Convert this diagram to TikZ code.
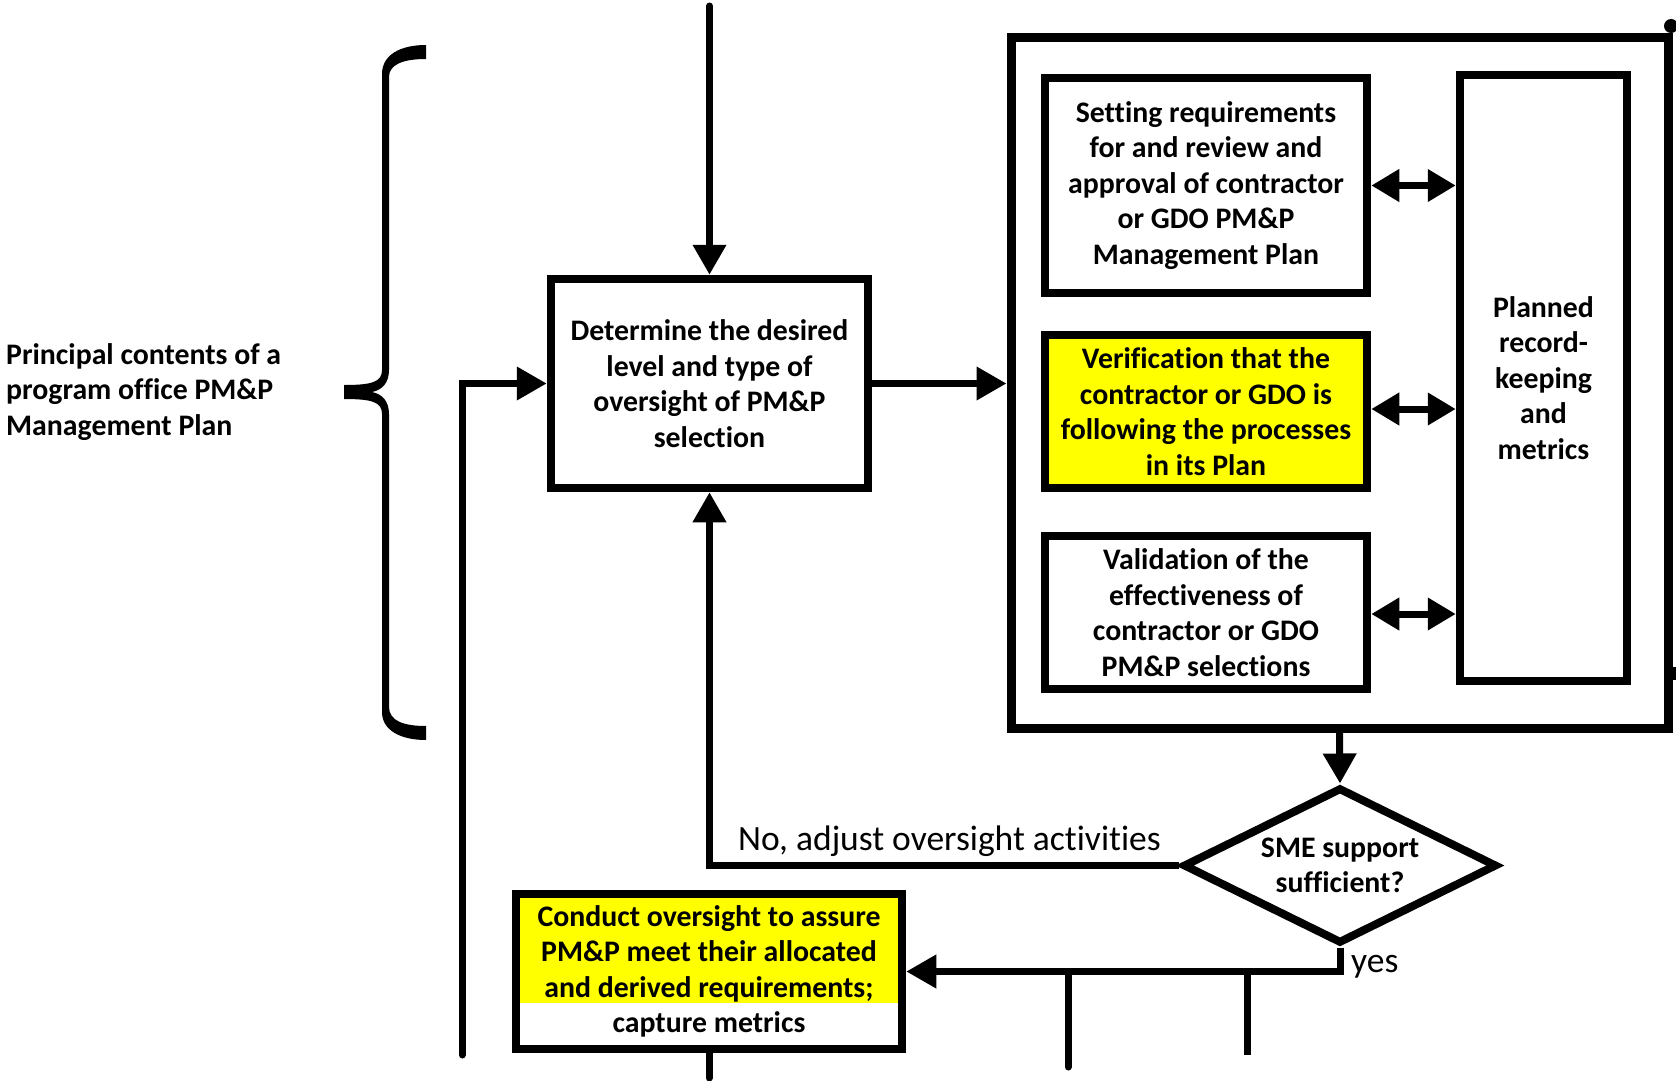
\documentclass[tikz,border=0pt]{standalone}
\usepackage{fontspec}
\setmainfont{Carlito}[Ligatures={NoCommon,NoContextual}]
\usetikzlibrary{arrows.meta,shapes.geometric,calc}

\definecolor{hl}{HTML}{FFFF00}

\tikzset{
  txt/.style={font=\bfseries\fontsize{29.8}{35.5}\selectfont, align=center, inner sep=0pt},
  box/.style={txt, draw, line width=8.5pt, rectangle},
  conn/.style={line width=7pt},
  arr/.style={conn, -{Triangle[length=30pt,width=32pt]}},
  darr/.style={conn, {Triangle[length=28pt,width=31pt]}-{Triangle[length=28pt,width=31pt]}},
  lbl/.style={font=\fontsize{35.5}{40}\selectfont, inner sep=0pt},
}

\begin{document}
\begin{tikzpicture}[x=1pt,y=-1pt]
\useasboundingbox (0,0) rectangle (1676,1081);

% bracket grouping the plan contents
\fill (426,45) .. controls (400,45) and (382,55) .. (382,74)
  -- (382,370) .. controls (382,382) and (372,385) .. (344,385)
  -- (344,399) .. controls (372,399) and (382,402) .. (382,414)
  -- (382,712) .. controls (382,730) and (400,740) .. (426,740)
  -- (426,726) .. controls (404,726) and (389,721) .. (389,707)
  -- (389,414) .. controls (389,401) and (382,394) .. (372,392)
  .. controls (382,390) and (389,383) .. (389,370)
  -- (389,77) .. controls (389,65) and (402,59) .. (426,59) -- cycle;

\node[txt, align=left, anchor=base west] (pc) at (6,435)
  {Principal contents of a\\program office PM\&P\\Management Plan};

% main decision box
\node[box, minimum width=317pt, minimum height=209pt] (det) at (709.5,383.5)
  {Determine the desired\\level and type of\\oversight of PM\&P\\selection};

% enclosing frame of the plan activities
\node[box, line width=9pt, minimum width=657pt, minimum height=691pt] (big) at (1339.5,383) {};

\node[box, minimum width=322pt, minimum height=215pt] (set) at (1206,185.5)
  {Setting requirements\\for and review and\\approval of contractor\\or GDO PM\&P\\Management Plan};
\node[box, fill=hl, minimum width=322pt, minimum height=153pt] (ver) at (1206,411.5)
  {Verification that the\\contractor or GDO is\\following the processes\\in its Plan};
\node[box, minimum width=322pt, minimum height=153pt] (val) at (1206,612.5)
  {Validation of the\\effectiveness of\\contractor or GDO\\PM\&P selections};
\node[box, minimum width=167pt, minimum height=606pt] (plan) at (1543.5,378)
  {Planned\\record-\\keeping\\and\\metrics};

% decision
\node[txt, draw, shape=diamond, aspect=2, line width=8pt, minimum width=314pt, minimum height=156pt] (dia) at (1340,865.5)
  {SME support\\sufficient?};

% oversight box, highlighted except for its last line
\fill[hl] (520,898) rectangle (898,1003);
\node[box, minimum width=386pt, minimum height=155pt] (cond) at (709,971.5)
  {Conduct oversight to assure\\PM\&P meet their allocated\\and derived requirements;\\capture metrics};

% free ends of connectors
\coordinate (topin) at (709.5,6);
\coordinate (fb) at (462,1055);
\coordinate (br1) at (1068,970);
\coordinate (br1e) at (1068,1067);
\coordinate (br2) at (1247,970);
\coordinate (br2e) at (1247,1055);
\coordinate (down) at (709,1078);

% connectors
\draw[arr, line cap=round] (topin) -- (det.north);
\draw[arr, line cap=round] (fb) |- (det.west);
\draw[arr] (det.east) -- (det.east -| big.west);
\draw[darr] (set.east) -- (set.east -| plan.west);
\draw[darr] (ver.east |- 0,409) -- (plan.west |- 0,409);
\draw[darr] (val.east |- 0,614) -- (plan.west |- 0,614);
\draw[arr] (big.south) -- (dia.north);
\draw[arr] (dia.west) -| (det.south);
\draw[arr] (dia.south) |- (cond.east);
\draw[conn, line cap=round] (br1 |- cond.east) -- (br1e);
\draw[conn] (br2 |- cond.east) -- (br2e);
\draw[conn, line cap=round] (cond.south) -- (down);

\node[lbl, anchor=base west] (no) at (738,850) {No, adjust oversight activities};
\node[lbl, anchor=base west] (yes) at (1351,972) {yes};

% marks at the right edge
\fill (1671,26) circle (7);
\fill (1668,667) rectangle (1676,680);
\end{tikzpicture}
\end{document}
